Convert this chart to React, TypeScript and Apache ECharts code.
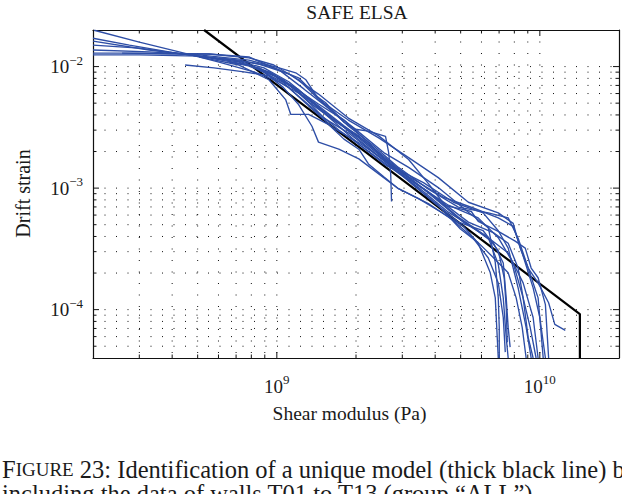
import React, { useEffect, useRef } from 'react';
import * as echarts from 'echarts';

const SERIF = '"Liberation Serif", "DejaVu Serif", serif';
const X_MIN = 2e8;
const X_MAX = 2e10;
const Y_MIN = 4e-5;
const Y_MAX = 2e-2;

// grid / minor tick positions
const xGridValues = [3e8, 4e8, 5e8, 6e8, 7e8, 8e8, 9e8, 1e9, 2e9, 3e9, 4e9, 5e9, 6e9, 7e9, 8e9, 9e9, 1e10];
const yGridValues = [
  5e-5, 6e-5, 7e-5, 8e-5, 9e-5, 1e-4,
  2e-4, 3e-4, 4e-4, 5e-4, 6e-4, 7e-4, 8e-4, 9e-4, 1e-3,
  2e-3, 3e-3, 4e-3, 5e-3, 6e-3, 7e-3, 8e-3, 9e-3, 1e-2,
];
const majorValues = [1e9, 1e10, 1e-4, 1e-3, 1e-2];

// identified model (thick black line)
const modelLine = [[5.29e8, 0.02], [1.42e10, 9.2e-5], [1.42e10, 4e-5]];

// wall curves (shear modulus [Pa], drift strain)
const wallA = [[2.02e8, 0.0199], [3.0e8, 0.0159], [4.25e8, 0.0132], [6.03e8, 0.0109], [8.18e8, 0.00905], [1.02e9, 0.0075], [1.32e9, 0.00541], [1.72e9, 0.00343], [2.23e9, 0.00215], [2.9e9, 0.00134], [3.77e9, 9.27e-4], [4.9e9, 5.77e-4], [6.37e9, 3.91e-4], [7.58e9, 2.92e-4], [8.64e9, 1.66e-4], [9.43e9, 8.62e-5], [9.85e9, 4.0e-5]];
const wallB = [[2.0e8, 0.0171], [2.75e8, 0.015], [3.89e8, 0.0132], [5.52e8, 0.0118], [7.83e8, 0.0103], [9.74e8, 0.00856], [1.21e9, 0.00646], [1.57e9, 0.00392], [2.05e9, 0.00259], [2.66e9, 0.00162], [3.46e9, 0.00105], [4.49e9, 7.23e-4], [5.83e9, 5.69e-4], [6.95e9, 3.91e-4], [7.92e9, 2.42e-4], [8.64e9, 1.25e-4], [9.19e9, 7.14e-5], [9.68e9, 4.0e-5]];
const wallC = [[2.0e8, 0.0162], [3.27e8, 0.0137], [5.06e8, 0.0122], [7.18e8, 0.0109], [9.33e8, 0.00905], [1.16e9, 0.00671], [1.44e9, 0.00492], [1.8e9, 0.00363], [2.23e9, 0.00236], [2.78e9, 0.00148], [3.61e9, 0.00111], [4.69e9, 7.65e-4], [6.09e9, 6.25e-4], [6.95e9, 4.46e-4], [7.58e9, 3.21e-4], [8.27e9, 1.51e-4], [8.87e9, 7.14e-5], [9.27e9, 4.0e-5]];
const wallD = [[2.0e8, 0.015], [3.0e8, 0.0142], [4.64e8, 0.0125], [6.87e8, 0.0113], [8.93e8, 0.00976], [1.11e9, 0.0075], [1.38e9, 0.00512], [1.8e9, 0.00325], [2.33e9, 0.00215], [3.03e9, 0.00134], [3.94e9, 8.41e-4], [5.12e9, 5.25e-4], [6.37e9, 3.91e-4], [6.95e9, 2.36e-4], [7.26e9, 1.25e-4], [7.45e9, 5.92e-5], [7.58e9, 4.0e-5]];
const wallE = [[2.0e8, 0.0129], [3.27e8, 0.0129], [5.52e8, 0.0127], [7.83e8, 0.012], [1.02e9, 0.0094], [1.27e9, 0.00652], [1.57e9, 0.00455], [1.96e9, 0.00313], [2.55e9, 0.00196], [3.17e9, 0.00148], [4.11e9, 0.00101], [5.35e9, 6.34e-4], [6.37e9, 4.72e-4], [6.77e9, 2.45e-4], [6.95e9, 1.25e-4], [7.01e9, 7.14e-5], [7.01e9, 4.0e-5]];
const wallF = [[2.0e8, 0.0125], [3.0e8, 0.0125], [5.06e8, 0.0122], [7.18e8, 0.0113], [9.33e8, 0.0101], [1.21e9, 0.00809], [1.51e9, 0.005], [1.87e9, 0.00363], [2.44e9, 0.00259], [3.17e9, 0.00178], [4.11e9, 0.00122], [5.35e9, 7.65e-4], [6.95e9, 6.25e-4], [7.92e9, 5.13e-4], [8.42e9, 3.21e-4], [9.03e9, 2.2e-4], [9.85e9, 1.66e-4], [1.08e10, 1.14e-4], [1.14e10, 7.56e-5], [1.25e10, 6.75e-5]];
const wallG = [[2.58e8, 0.0129], [3.89e8, 0.0127], [5.52e8, 0.0127], [7.83e8, 0.0118], [9.74e8, 0.0103], [1.21e9, 0.00779], [1.44e9, 0.00541], [1.87e9, 0.00325], [2.33e9, 0.00223], [2.9e9, 0.00148], [3.77e9, 9.78e-4], [4.9e9, 6.97e-4], [6.37e9, 6.25e-4], [7.58e9, 5.69e-4], [8.27e9, 3.87e-4], [9.03e9, 2.2e-4], [9.85e9, 1.25e-4], [1.03e10, 4.0e-5]];
const wallH = [[4.48e8, 0.0103], [5.77e8, 0.00976], [7.5e8, 0.00905], [9.33e8, 0.0084], [1.11e9, 0.00671], [1.38e9, 0.00448], [1.72e9, 0.00301], [2.14e9, 0.00215], [2.78e9, 0.00142], [3.46e9, 0.00101], [4.49e9, 6.34e-4], [5.58e9, 4.72e-4], [6.65e9, 3.56e-4], [7.26e9, 2.42e-4], [7.45e9, 1.25e-4], [7.58e9, 7.14e-5], [7.71e9, 4.91e-5]];
const wallI = [[5.06e8, 0.012], [7.18e8, 0.0103], [9.33e8, 0.00779], [1.08e9, 0.00535], [1.13e9, 0.00404], [1.32e9, 0.00404], [1.57e9, 0.00335], [1.8e9, 0.00253], [2.05e9, 0.00209], [2.23e9, 0.00158], [2.55e9, 0.00124], [2.9e9, 9.89e-4], [3.46e9, 8.2e-4], [4.3e9, 6.18e-4], [5.12e9, 4.85e-4], [5.83e9, 3.52e-4], [6.48e9, 2.01e-4], [6.77e9, 1.25e-4], [6.95e9, 4.0e-5]];
const wallJ = [[2.0e8, 0.0137], [3.27e8, 0.0132], [5.06e8, 0.0125], [7.83e8, 0.0113], [1.02e9, 0.00976], [1.18e9, 0.00889], [1.29e9, 0.00779], [1.42e9, 0.00566], [1.53e9, 0.00506], [1.62e9, 0.00444], [1.8e9, 0.00348], [1.99e9, 0.00305], [2.23e9, 0.00294], [2.59e9, 0.00267], [2.66e9, 0.00198], [2.71e9, 0.00131], [2.73e9, 7.75e-4]];
const wallK = [[6.03e8, 0.0118], [8.55e8, 0.0105], [1.11e9, 0.00872], [1.44e9, 0.00594], [1.87e9, 0.00377], [2.44e9, 0.00269], [3.17e9, 0.00172], [3.77e9, 0.00109], [4.37e9, 7.19e-4], [4.9e9, 6.8e-4], [5.49e9, 6.42e-4], [5.83e9, 5.32e-4], [6.95e9, 4.41e-4], [8.06e9, 3.66e-4], [8.8e9, 3.21e-4], [9.03e9, 2.66e-4], [9.27e9, 2.2e-4], [9.85e9, 1.83e-4], [1.05e10, 1.1e-4], [1.08e10, 4.0e-5]];
const wallL = [[6.58e8, 0.0109], [8.55e8, 0.00976], [1.06e9, 0.00779], [1.32e9, 0.00512], [1.64e9, 0.00363], [2.05e9, 0.00269], [2.55e9, 0.00178], [3.17e9, 0.00122], [4.11e9, 8.1e-4], [5.35e9, 5.25e-4], [6.65e9, 4.3e-4], [7.58e9, 3.52e-4], [8.27e9, 2.2e-4], [8.64e9, 1.25e-4], [9.03e9, 5.92e-5], [9.43e9, 4.0e-5]];
const wallM = [[7.83e8, 0.0101], [9.74e8, 0.0084], [1.21e9, 0.00622], [1.51e9, 0.00377], [1.87e9, 0.00285], [2.33e9, 0.00196], [3.03e9, 0.00127], [3.94e9, 7.65e-4], [4.9e9, 5.25e-4], [6.09e9, 4.46e-4], [6.95e9, 3.06e-4], [7.32e9, 1.83e-4], [7.45e9, 1.04e-4], [7.52e9, 5.39e-5]];
const wallN = [[9.33e8, 0.00905], [1.11e9, 0.00709], [1.38e9, 0.00492], [1.72e9, 0.00325], [2.08e9, 0.00223], [2.61e9, 0.00153], [3.31e9, 0.00118], [4.3e9, 8.41e-4], [5.58e9, 6.86e-4], [6.95e9, 5.69e-4], [7.92e9, 4.85e-4], [8.64e9, 2.76e-4], [9.43e9, 1.51e-4], [1.0e10, 8.62e-5], [1.05e10, 4.0e-5]];
const wallO = [[8.55e8, 0.0094], [1.06e9, 0.00737], [1.32e9, 0.00475], [1.64e9, 0.00313], [2.05e9, 0.00236], [2.55e9, 0.00172], [3.31e9, 0.00105], [4.11e9, 7.23e-4], [4.99e9, 4.61e-4], [5.83e9, 3.56e-4], [6.65e9, 2.69e-4], [7.58e9, 2.01e-4], [8.13e9, 1.25e-4], [8.57e9, 7.14e-5], [8.87e9, 4.0e-5]];
const wallP = [[8.55e8, 0.00976], [1.06e9, 0.00671], [1.21e9, 0.00487], [1.36e9, 0.00323], [1.44e9, 0.00239], [1.72e9, 0.00209], [2.05e9, 0.00174], [2.44e9, 0.00131], [2.9e9, 9.89e-4], [3.77e9, 7.46e-4], [4.69e9, 5.42e-4], [5.58e9, 3.87e-4], [6.37e9, 2.66e-4], [6.95e9, 1.66e-4], [7.26e9, 8.62e-5], [7.39e9, 4.47e-5]];

const wallCurves = [wallA, wallB, wallC, wallD, wallE, wallF, wallG, wallH, wallI, wallJ, wallK, wallL, wallM, wallN, wallO, wallP];

const titleText = 'SAFE ELSA';
const xName = 'Shear modulus (Pa)';
const yName = 'Drift strain';
const captionLine1 = '23: Identification of a unique model (thick black line) b';
const captionLine2 = 'including the data of walls T01 to T13 (group \u201cALL\u201d).';

const BLUE = '#2e4ea6';
const INK = '#1a1a1a';

const powerLabel = (v: number) => {
  const e = Math.log10(v);
  const r = Math.round(e);
  if (Math.abs(e - r) > 1e-6) return '';
  const s = r < 0 ? '\u2212' + Math.abs(r) : String(r);
  return `{b|10}{s|${s}}`;
};

const labelRich = {
  b: { fontSize: 19, fontFamily: SERIF, color: INK, lineHeight: 26 },
  s: { fontSize: 13, fontFamily: SERIF, color: INK, lineHeight: 14, verticalAlign: 'top' },
};

const dotted = { stroke: '#111', lineWidth: 1, lineDash: [1, 10.5] };
const tickStyle = { stroke: '#111', lineWidth: 1 };

export default function App() {
  const ref = useRef<HTMLDivElement>(null);
  useEffect(() => {
    if (!ref.current) return;
    const chart = echarts.init(ref.current, undefined, { renderer: 'svg' });
    const axisLine = { show: true, onZero: false, lineStyle: { color: '#111', width: 1.2 } };
    const option: any = {
      animation: false,
      grid: { left: 93, right: 1, top: 30, bottom: 136, containLabel: false },
      xAxis: [
        {
          type: 'log', logBase: 10, min: X_MIN, max: X_MAX, position: 'bottom',
          axisLine, axisTick: { show: false }, splitLine: { show: false }, minorTick: { show: false },
          axisLabel: { formatter: powerLabel, rich: labelRich, margin: 15, showMinLabel: true, showMaxLabel: true },
        },
        {
          type: 'log', logBase: 10, min: X_MIN, max: X_MAX, position: 'top',
          axisLine, axisTick: { show: false }, splitLine: { show: false }, axisLabel: { show: false },
        },
      ],
      yAxis: [
        {
          type: 'log', logBase: 10, min: Y_MIN, max: Y_MAX, position: 'left',
          axisLine, axisTick: { show: false }, splitLine: { show: false }, minorTick: { show: false },
          axisLabel: { formatter: powerLabel, rich: labelRich, margin: 10 },
        },
        {
          type: 'log', logBase: 10, min: Y_MIN, max: Y_MAX, position: 'right',
          axisLine, axisTick: { show: false }, splitLine: { show: false }, axisLabel: { show: false },
        },
      ],
      series: [
        {
          type: 'custom', xAxisIndex: 0, yAxisIndex: 0, silent: true, z: 1,
          data: xGridValues.map((v) => [v, Y_MIN]),
          renderItem: (params: any, api: any) => {
            const v = api.value(0);
            const top = api.coord([v, Y_MAX]);
            const bot = api.coord([v, Y_MIN]);
            const t = majorValues.includes(v) ? 6 : 3.5;
            return {
              type: 'group',
              children: [
                { type: 'line', shape: { x1: top[0], y1: top[1], x2: bot[0], y2: bot[1] }, style: dotted },
                { type: 'line', shape: { x1: bot[0], y1: bot[1], x2: bot[0], y2: bot[1] - t }, style: tickStyle },
                { type: 'line', shape: { x1: top[0], y1: top[1], x2: top[0], y2: top[1] + t }, style: tickStyle },
              ],
            };
          },
        },
        {
          type: 'custom', xAxisIndex: 0, yAxisIndex: 0, silent: true, z: 1,
          data: yGridValues.map((v) => [X_MIN, v]),
          renderItem: (params: any, api: any) => {
            const v = api.value(1);
            const l = api.coord([X_MIN, v]);
            const r = api.coord([X_MAX, v]);
            const t = majorValues.includes(v) ? 6 : 3.5;
            return {
              type: 'group',
              children: [
                { type: 'line', shape: { x1: l[0], y1: l[1], x2: r[0], y2: r[1] }, style: dotted },
                { type: 'line', shape: { x1: l[0], y1: l[1], x2: l[0] + t, y2: l[1] }, style: tickStyle },
                { type: 'line', shape: { x1: r[0], y1: r[1], x2: r[0] - t, y2: r[1] }, style: tickStyle },
              ],
            };
          },
        },
        {
          type: 'line', data: modelLine, showSymbol: false, symbol: 'none', silent: true, z: 2,
          lineStyle: { color: '#000', width: 2.2 }, emphasis: { disabled: true },
        },
        ...wallCurves.map((c) => ({
          type: 'line', data: c, showSymbol: false, symbol: 'none', silent: true, z: 3,
          lineStyle: { color: BLUE, width: 1.35 }, emphasis: { disabled: true },
        })),
      ],
      graphic: [
        {
          type: 'text', x: 357, y: 12, silent: true,
          style: { text: titleText, fontSize: 19.5, fontFamily: SERIF, fill: INK, align: 'center', verticalAlign: 'middle' },
        },
        {
          type: 'text', x: 349.5, y: 413.5, silent: true,
          style: { text: xName, fontSize: 19.5, fontFamily: SERIF, fill: INK, align: 'center', verticalAlign: 'middle' },
        },
        {
          type: 'text', x: 23, y: 193.5, rotation: Math.PI / 2, silent: true,
          style: { text: yName, fontSize: 20, fontFamily: SERIF, fill: INK, align: 'center', verticalAlign: 'middle' },
        },
        {
          type: 'text', x: 2, y: 469, silent: true,
          style: {
            text: '{a|F}{c|IGURE}{a| ' + captionLine1 + '}',
            fill: INK, align: 'left', verticalAlign: 'middle',
            rich: {
              a: { fontSize: 24.5, fontFamily: SERIF, fill: INK },
              c: { fontSize: 19, fontFamily: SERIF, fill: INK },
            },
          },
        },
        {
          type: 'text', x: 2, y: 493, silent: true,
          style: { text: captionLine2, fontSize: 24.5, fontFamily: SERIF, fill: INK, align: 'left', verticalAlign: 'middle' },
        },
      ],
    };
    chart.setOption(option);
    return () => chart.dispose();
  }, []);
  return <div ref={ref} style={{ position: 'fixed', left: 0, top: 0, width: 622, height: 494, background: '#fff' }} />;
}
